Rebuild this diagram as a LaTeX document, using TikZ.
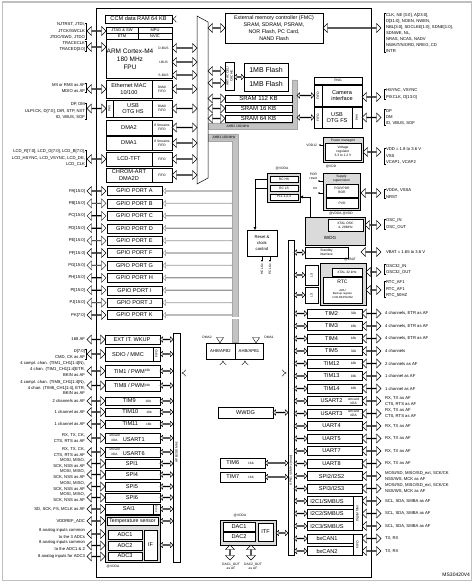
\documentclass[tikz,border=0pt]{standalone}
\usepackage{fontspec}
\setmainfont{Liberation Sans}
\usetikzlibrary{shapes.arrows,arrows.meta}
\definecolor{busg}{RGB}{195,195,195}
\definecolor{domg}{RGB}{218,218,218}
\newcommand\bx[7][]{\node[box,minimum width={((#4)-(#2))*1pt},minimum height={((#5)-(#3))*1pt},#1] (#6) at ({((#2)+(#4))/2},{((#3)+(#5))/2}) {#7};}
\newcommand\harr[5][]{\node[darr,minimum height={((#3)-(#2))*1pt},#1] (#5) at ({((#2)+(#3))/2},{#4}) {};}
\newcommand\varr[5][]{\node[darr,rotate=90,minimum height={((#4)-(#3))*1pt},#1] (#5) at ({#2},{((#3)+(#4))/2}) {};}
\newcommand\lbr[1]{\draw[line width=0.3pt] ([xshift=0.4pt]#1.north east) -- ([xshift=1.4pt]#1.north east) -- ([xshift=1.4pt]#1.south east) -- ([xshift=0.4pt]#1.south east);}
\newcommand\rbr[1]{\draw[line width=0.3pt] ([xshift=-0.4pt]#1.north west) -- ([xshift=-1.4pt]#1.north west) -- ([xshift=-1.4pt]#1.south west) -- ([xshift=-0.4pt]#1.south west);}
\newcommand\sml[1]{{\fontsize{3.2}{3.6}\selectfont #1}}
\newcommand\rrow[6]{%
 \pgfmathsetmacro\yy{313.5+12.5*(#1)}%
 \bx{307}{\yy-4.6}{#6}{\yy+4.6}{#2}{}%
 \node[bft] (#2t) at ({(307+#6)/2-3},\yy) {#3};%
 \node[tiny] (#2s) at (353.5,\yy) {#4};%
 \harr{362}{381}{\yy}{#2x}%
 \harr[sarr]{294}{307}{\yy}{#2b}%
 \node[rlbl] (#2l) at (385,\yy) {#5};%
}
\newcommand\lrow[7]{%
 \bx{105}{#1}{160}{#2}{#3}{}%
 \node[bft] (#3t) at (#5,{((#1)+(#2))/2}) {#4};%
 \harr{87}{105}{#7}{#3x}%
 \harr[sarr]{160}{173}{#7}{#3b}%
 \node[lbl] (#3l) at (85,#7) {#6};%
}
\begin{document}
\begin{tikzpicture}[x=1pt,y=-1pt,
 every node/.style={inner sep=0pt,outer sep=0pt},
 box/.style={draw,fill=white,line width=0.4pt,font=\fontsize{5.6}{6.4}\selectfont,align=center},
 bft/.style={font=\fontsize{5.6}{6.4}\selectfont,align=center},
 lbl/.style={font=\fontsize{4.2}{6.3}\selectfont,align=right,anchor=east},
 rlbl/.style={font=\fontsize{4.2}{6.3}\selectfont,align=left,anchor=west},
 tiny/.style={font=\fontsize{3.3}{4}\selectfont,align=center},
 darr/.style={double arrow,draw,fill=white,line width=0.4pt,minimum width=9pt,double arrow head extend=2.2pt,double arrow head indent=0pt},
 sarr/.style={minimum width=5.5pt,double arrow head extend=1.3pt},
 garr/.style={single arrow,draw=gray!80,fill=white,line width=0.4pt,minimum width=5.5pt,single arrow head extend=1.3pt,rotate=180},
 bus/.style={draw=gray!70,fill=busg,line width=0.4pt},
 dom/.style={draw,fill=domg,line width=0.4pt},
 lnk/.style={line width=0.4pt},
 hol/.style={double,double distance=2pt,line width=0.4pt},
]
\useasboundingbox (0,0) rectangle (474,585);
\draw[gray!50,line width=1.8pt] (2.5,2) rectangle (471.5,580.5);
\draw[line width=0.8pt] (96,8) rectangle (371,577);
\node[font=\fontsize{5}{5}\selectfont,anchor=east] (ref) at (470,575) {MS30420V4};

% ---------- buses ----------
\draw[bus] (208,123) -- (292,123) -- (292,80) -- (297,80) -- (297,129) -- (208,129) -- cycle;
\node[tiny] (ahb2l) at (238,126) {AHB2 180 MHz};
\draw[bus] (208,134) -- (238,134) -- (238,342) -- (232,342) -- (232,141) -- (208,141) -- cycle;
\node[tiny,fill=gray!55,minimum width=24pt,minimum height=5pt] (ahb1l) at (224,137.5) {AHB1 180 MHz};
\draw[fill=white,line width=0.5pt] (197,16) -- (208,22) -- (208,178) -- (197,184) -- cycle;
\coordinate (bm) at (202.5,100);

% DMA peripheral lines
\coordinate (d2s) at (178,133);
\coordinate (d1s) at (183,150);
\draw[hol,double distance=1.2pt] (d2s) -- (178,323) -- (220,323) -- (220,338);
\draw[hol,double distance=1.2pt] (d1s) -- (183,318) -- (256,318) -- (256,338);
\draw[fill=white,line width=0.4pt] (216.5,337.5) -- (223.5,337.5) -- (220,342.8) -- cycle;
\draw[fill=white,line width=0.4pt] (252.5,337.5) -- (259.5,337.5) -- (256,342.8) -- cycle;
\node[tiny] (dma2lab) at (207,337) {DMA2};
\node[tiny] (dma1lab) at (269,337) {DMA1};

% ---------- top left ----------
\bx{105}{15}{172}{23}{ccm}{CCM data RAM 64 KB}
\draw[hol,-{Implies}] (187,44) |- (ccm.east);
\bx{106}{27}{172}{78}{cpu}{}
\bx[font=\fontsize{4}{4}\selectfont]{106}{27}{138}{33}{jtag}{JTAG \& SW}
\bx[font=\fontsize{4}{4}\selectfont]{138}{27}{172}{33}{mpu}{MPU}
\bx[font=\fontsize{4}{4}\selectfont]{106}{33}{138}{39}{etm}{ETM}
\bx[font=\fontsize{4}{4}\selectfont]{138}{33}{172}{39}{nvic}{NVIC}
\node[font=\fontsize{6.5}{8.2}\selectfont,align=center] (arm) at (130,59) {ARM Cortex-M4\\180 MHz\\FPU};
\node[tiny] (dbus) at (163.5,48) {D-BUS};
\node[tiny] (ibus) at (163.5,62) {I-BUS};
\node[tiny] (sbus) at (163.5,75) {S-BUS};

\bx{106}{80}{152}{98}{eth}{Ethernet MAC\\10/100}
\bx[tiny]{152}{80}{172}{98}{ethf}{DMA/\\FIFO}
\bx{106}{100}{152}{117}{usbhs}{}
\node[bft] (usbhst) at (133,108.5) {USB\\OTG HS};
\bx[tiny]{106}{100}{113}{117}{phyhs}{}
\node[tiny,rotate=90] (phyhst) at (109.5,108.5) {PHY};
\bx[tiny]{152}{100}{172}{117}{usbhsf}{DMA/\\FIFO}
\bx{106}{120}{152}{135}{dma2}{DMA2}
\bx[tiny]{152}{120}{172}{135}{dma2f}{8 Streams\\FIFO}
\bx{106}{136}{152}{150}{dma1}{DMA1}
\bx[tiny]{152}{136}{172}{150}{dma1f}{8 Streams\\FIFO}
\bx{106}{152}{152}{166}{lcd}{LCD-TFT}
\bx[tiny]{152}{152}{172}{166}{lcdf}{FIFO}
\bx{106}{168}{152}{182}{chrom}{CHROM-ART\\DMA2D}
\bx[tiny]{152}{168}{172}{182}{chromf}{FIFO}

\foreach \yy/\nm in {48/mdb,62/mib,75/msb,89/meth,108.5/musb,127.5/mdma2,143/mdma1,159/mlcd,175/mchrom}{\harr{172}{197}{\yy}{\nm}}

% left upper labels
\node[lbl] (ljtag) at (85,31) {NJTRST, JTDI,\\JTCK/SWCLK\\JTDO/SWD, JTDO}; \lbr{ljtag}
\harr{87}{106}{31}{ajtag}
\node[lbl] (ltrace) at (85,46.5) {TRACECLK\\TRACED[3:0]}; \lbr{ltrace}
\harr{87}{106}{47}{atrace}
\node[lbl] (leth) at (85,88) {MII or RMII as AF\\MDIO as AF}; \lbr{leth}
\harr{87}{106}{89}{aeth}
\node[lbl] (lusb) at (85,111) {DP, DM\\ULPI:CK, D[7:0], DIR, STP, NXT\\ID, VBUS, SOF}; \lbr{lusb}
\harr{87}{106}{108.5}{ausb}
\node[lbl] (llcd) at (85,158) {LCD\_R[7:0], LCD\_G[7:0], LCD\_B[7:0],\\LCD\_HSYNC, LCD\_VSYNC, LCD\_DE,\\LCD\_CLK}; \lbr{llcd}
\harr{87}{106}{159}{alcd}

% GPIO
\foreach \L/\n [count=\i from 0] in {A/15,B/15,C/15,D/15,E/15,F/15,G/15,H/15,I/15,J/15,K/7}{
 \pgfmathsetmacro\yy{191+12.4*\i}
 \node[garr,minimum height=69pt] (g\L a) at (197.5,\yy) {};
 \bx{107}{\yy-4.5}{162}{\yy+4.5}{gp\L}{GPIO PORT \L}
 \harr{87}{106}{\yy}{ap\L}
 \node[lbl] (lp\L) at (85,\yy) {P\L[\n:0]};
}

% ---------- APB2 side ----------
\draw[line width=0.4pt,fill=white] (173,333) rectangle (180,562);
\node[tiny,rotate=90] (apb2l) at (176.5,452) {APB2 90 MHz};
\coordinate (apb2) at (176.5,373);
\lrow{335}{344}{extit}{EXT IT. WKUP}{132}{168 AF}{339.5}
\lrow{347}{361}{sdio}{SDIO / MMC}{128}{D[7:0]\\CMD, CK as AF}{354}
\bx{153}{347}{160}{361}{sdiof}{}
\node[tiny,rotate=90] (sdioft) at (156.5,354) {FIFO};
\lrow{365}{377}{timone}{TIM1 / PWM\raisebox{1.5pt}{\sml{16b}}}{132}{}{371}
\node[lbl,font=\fontsize{4.2}{5.7}\selectfont] (timonelab) at (85,369) {4 compl. chan. (TIM1\_CH1[1:4]N),\\4 chan. (TIM1\_CH1[1:4]ETR,\\BKIN as AF};
\lrow{380}{391}{timeight}{TIM8 / PWM\raisebox{1.5pt}{\sml{16b}}}{132}{}{385.5}
\node[lbl,font=\fontsize{4.2}{5.7}\selectfont] (timeightlab) at (85,387.5) {4 compl. chan. (TIM8\_CH1[1:4]N),\\4 chan. (TIM8\_CH1[1:4], ETR,\\BKIN as AF};
\lrow{397}{405}{timnine}{TIM9\hspace{10pt}\sml{16b}}{137}{2 channels as AF}{401}
\lrow{408}{416}{timten}{TIM10\hspace{8pt}\sml{16b}}{137}{1 channel as AF}{412}
\lrow{420}{428}{timeleven}{TIM11\hspace{8pt}\sml{16b}}{137}{1 channel as AF}{424}
\lrow{433}{443}{usartone}{\sml{\shortstack{smcard\\irDA}}\hspace{3pt}USART1}{127}{RX, TX, CK,\\CTS, RTS as AF}{438}
\lrow{447}{457}{usartsix}{\sml{\shortstack{smcard\\irDA}}\hspace{3pt}USART6}{127}{RX, TX, CK,\\CTS, RTS as AF}{452}
\lrow{459}{468}{spione}{SPI1}{132}{MOSI, MISO,\\SCK, NSS as AF}{463.5}
\lrow{470}{479}{spifour}{SPI4}{132}{MOSI, MISO,\\SCK, NSS as AF}{474.5}
\lrow{482}{491}{spifive}{SPI5}{132}{MOSI, MISO,\\SCK, NSS as AF}{486.5}
\lrow{493}{502}{spisix}{SPI6}{132}{MOSI, MISO,\\SCK, NSS as AF}{497.5}
\lrow{504}{514}{saione}{SAI1}{129}{SD, SCK, FS, MCLK as AF}{509}
\bx{153}{504}{160}{514}{saif}{}
\node[tiny,rotate=90,font=\fontsize{2.8}{3}\selectfont] (saift) at (156.5,509) {FIFO};
% ADC group
\bx[fill=domg]{105}{515}{160}{562}{adcg}{}
\bx[font=\fontsize{5.2}{6}\selectfont]{107}{517}{158}{525}{temp}{Temperature sensor}
\bx{108}{530}{142}{539}{adcone}{ADC1}
\bx{108}{541}{142}{550}{adctwo}{ADC2}
\bx{108}{552}{142}{560}{adcthree}{ADC3}
\bx{144}{530}{157}{560}{adcif}{IF}
\node[tiny] (adcv) at (113,567) {@VDDA};
\harr[sarr]{160}{173}{521}{adcb1}
\harr[sarr]{160}{173}{545}{adcb2}
\node[lbl] (lvref) at (85,521) {VDDREF\_ADC};
\harr{87}{105}{521}{avref}
\node[lbl] (lain1) at (85,533.5) {8 analog inputs common\\to the 3 ADCs};
\harr{87}{105}{534}{aain1}
\node[lbl] (lain2) at (85,545.5) {8 analog inputs common\\to the ADC1 \& 2};
\harr{87}{105}{545.5}{aain2}
\node[lbl] (lain3) at (85,556.5) {8 analog inputs for ADC3};
\harr{87}{105}{556.5}{aain3}
\lbr{sdiol}

% ---------- bridges ----------
\bx[font=\fontsize{4.2}{5}\selectfont]{206}{343}{235}{359}{brtwo}{AHB/APB2}
\bx[font=\fontsize{4.2}{5}\selectfont]{235}{343}{263}{359}{brone}{AHB/APB1}
\draw[hol,{Implies}-{Implies}] (223,360.5) |- (181.5,373);
\draw[hol,{Implies}-{Implies}] (245,360.5) |- (286.5,373);

% ---------- APB1 side ----------
\draw[line width=0.4pt,fill=white] (288,240) rectangle (294,555);
\node[tiny,rotate=90] (apb1l) at (291,470) {APB1 45 MHz (max)};
\bx{218}{407}{273}{418}{wwdg}{WWDG}
\harr[sarr]{273}{288}{412.5}{awwdg}
\bx{220}{458}{265}{468}{timsix}{}
\node[bft] (timsixt) at (240,463) {TIM6\hspace{9pt}\sml{16b}};
\harr[sarr]{265}{288}{463}{atimsix}
\bx{220}{472}{265}{482}{timseven}{}
\node[bft] (timsevent) at (240,477) {TIM7\hspace{9pt}\sml{16b}};
\harr[sarr]{265}{288}{477}{atimseven}
\bx[fill=domg]{220}{520}{276}{545}{dacg}{}
\node[tiny] (dacv) at (240,516) {@VDDA};
\bx{223}{522}{255}{531}{dacone}{DAC1}
\bx{223}{532}{255}{541}{dactwo}{DAC2}
\bx{258}{523}{273}{541}{itf}{ITF}
\harr[sarr]{276}{288}{533}{adac}
\varr{230}{545}{560}{adacone}
\varr{251}{545}{560}{adactwo}
\node[tiny] (ldacone) at (231,566) {DAC1\_OUT\\as AF};
\node[tiny] (ldactwo) at (253,566) {DAC2\_OUT\\as AF};

% ---------- clocks ----------
\bx[font=\fontsize{4.2}{6}\selectfont]{247}{230}{277}{256}{rcc}{Reset \&\\clock\\control}
\draw[lnk,-{Latex[length=2pt,width=2pt]}] (262,256) -- (262,262);
\draw[lnk,-{Latex[length=2pt,width=2pt]}] (270,256) -- (270,262);
\node[tiny,rotate=90,anchor=east] (hclk) at (262,264) {HCLKx};
\node[tiny,rotate=90,anchor=east] (pclk) at (270,264) {PCLKx};
\bx[fill=domg]{267}{173}{300}{202}{rcg}{}
\node[tiny] (rcv) at (282,169) {@VDDA};
\bx[tiny]{270}{176}{298}{182}{rchs}{RC HS}
\bx[tiny]{270}{185}{298}{191}{rcls}{RC LS}
\bx[tiny]{270}{194}{298}{200}{pll}{PLL 1,2,3}
\draw[lnk] (rcg.west |- rchs) -- (255,179) -- (255,188) -- (rcg.west |- rcls);
\draw[lnk,-{Latex[length=3pt,width=3pt]}] (255,188) -- (rcc.north -| 255,0);
\draw[lnk,-{Latex[length=3pt,width=3pt]}] (310,197) -- (rcg.east |- 0,197);
\draw[lnk,-{Latex[length=3pt,width=3pt]}] (310,197) -- (310,235) -- (316,235);

% ---------- top right ----------
\bx[font=\fontsize{5.3}{7}\selectfont]{225}{13}{323}{43}{fmc}{External memory controller (FMC)\\SRAM, SDRAM, PSRAM,\\NOR Flash, PC Card,\\NAND Flash}
\harr{208}{225}{28}{sfmc}
\harr{323}{381}{28}{afmc}
\node[rlbl,font=\fontsize{4.2}{6}\selectfont] (lfmc) at (386,33) {CLK, NE [3:0], A[23:0],\\D[31:0], NOEN, NWEN,\\NBL[3:0], SDCLKE[1:0], SDNE[1:0],\\SDNWE, NL,\\NRAS, NCAS, NADV\\NWAIT/NIORD, NREG, CD\\INTR}; \rbr{lfmc}
\bx{225}{62}{234}{90}{art}{}
\node[tiny,rotate=90] (artt) at (229.5,76) {ART ACCEL/\\CACHE};
\harr{208}{225}{71}{sarti}
\harr{208}{225}{83}{sartd}
\harr[sarr]{234}{244}{77}{aflash}
\bx[font=\fontsize{7}{7}\selectfont]{244}{63}{288}{77}{flone}{1MB Flash}
\bx[font=\fontsize{7}{7}\selectfont]{244}{77}{288}{91}{fltwo}{1MB Flash}
\bx[font=\fontsize{6}{6}\selectfont]{225}{95}{292}{102}{sramone}{SRAM 112 KB}
\bx[font=\fontsize{6}{6}\selectfont]{225}{105}{292}{112}{sramtwo}{SRAM 16 KB}
\bx[font=\fontsize{6}{6}\selectfont]{225}{115}{292}{122}{sramthree}{SRAM 64 KB}
\harr{208}{225}{98.5}{ssone}
\harr{208}{225}{108.5}{sstwo}
\harr{208}{225}{118.5}{ssthree}

\bx[tiny]{314}{77}{362}{84}{rng}{RNG}
\bx{322}{85}{362}{106}{cam}{Camera\\interface}
\bx{314}{85}{322}{106}{camf}{}
\node[tiny,rotate=90] (camft) at (318,95.5) {FIFO};
\bx{322}{107}{352}{128}{usbfs}{USB\\OTG FS}
\bx{314}{107}{322}{128}{usbfsf}{}
\node[tiny,rotate=90] (usbfsft) at (318,117.5) {FIFO};
\bx{352}{107}{362}{128}{phyfs}{}
\node[tiny,rotate=90] (phyfst) at (357,117.5) {PHY};
\harr[sarr]{297}{314}{95.5}{acamb}
\harr[sarr]{297}{314}{117.5}{ausbfsb}
\harr{362}{381}{97}{acam}
\harr{362}{381}{117.5}{ausbfs}
\node[rlbl] (lcam) at (386,94) {HSYNC, VSYNC\\PIXCLK, D[13:0]}; \rbr{lcam}
\node[rlbl] (lusbfs) at (386,117.5) {DP\\DM\\ID, VBUS, SOF}; \rbr{lusbfs}

% power
\bx[fill=domg]{323}{137}{363}{162}{pwr}{}
\node[tiny] (pwrt) at (343,140.3) {Power managmt};
\bx[tiny]{325}{143}{361}{160}{vreg}{Voltage\\regulator\\3.3 to 1.2 V}
\node[tiny] (pwrv) at (331,167) {@VDD};
\node[tiny,anchor=east] (vdd12) at (317,145) {VDD12};
\fill (320,145) circle (0.8);
\draw[lnk] (320,145) -- (pwr.west |- 0,145);
\harr{363}{381}{152}{apwr}
\node[rlbl] (lpwr) at (386,156) {VDD = 1.8 to 3.6 V\\VSS\\VCAP1, VCAP2}; \rbr{lpwr}

\bx[fill=domg]{323}{173}{360}{210}{sup}{}
\node[tiny] (supt) at (341.5,178.5) {Supply\\supervision};
\bx[tiny]{326}{184}{358}{197}{por}{POR/PDR\\BOR}
\bx[tiny]{326}{198}{358}{208}{pvd}{PVD}
\node[tiny] (supv) at (341,214) {@VDDA @VDD};
\node[tiny,align=right,anchor=east] (porr) at (317,176) {POR\\reset};
\node[tiny,anchor=east] (intl) at (317,188) {Int};
\fill (319,181) circle (0.8); \draw[lnk] (319,181) -- (sup.west |- 0,181);
\fill (319,193) circle (0.8); \draw[lnk] (319,193) -- (sup.west |- 0,193);
\harr{361}{381}{193}{asup}
\node[rlbl] (lsup) at (386,193.5) {VDDA, VSSA\\NRST}; \rbr{lsup}

% IWDG / oscillators / backup
\bx[fill=domg]{305}{217}{365}{245}{iwdgg}{}
\bx[tiny]{328}{219}{363}{231}{xosc}{XTAL OSC\\4- 26MHz}
\node[font=\fontsize{4.5}{5}\selectfont] (iwdg) at (330,238) {IWDG};
\harr{365}{381}{225}{axosc}
\node[rlbl] (losc) at (386,224) {OSC\_IN\\OSC\_OUT}; \rbr{losc}
\bx[tiny]{305}{247}{348}{258}{stby}{Standby\\interface}
\harr{361}{381}{252}{avbat}
\node[rlbl] (lvbat) at (386,252) {VBAT = 1.65 to 3.6 V};
\node[tiny] (vbatd) at (350,260) {@VBAT};
\bx[fill=domg]{320}{263}{366}{305}{bkg}{}
\bx[tiny]{332}{268}{362}{276}{x32}{XTAL 32 kHz}
\bx{323}{277}{362}{303}{rtc}{}
\node[font=\fontsize{5}{5}\selectfont] (rtct) at (342.5,281.5) {RTC};
\node[tiny,font=\fontsize{2.8}{3.3}\selectfont] (rtcs) at (342.5,294) {AWU\\Backup register\\4 KB BKPSRAM};
\bx{305}{265}{318}{285}{lsone}{}
\node[tiny,rotate=90] (lsonet) at (311.5,275) {LS};
\bx{305}{287}{318}{303}{lstwo}{}
\node[tiny,rotate=90] (lstwot) at (311.5,295) {LS};
\harr[sarr]{294}{305}{252.5}{astby}
\harr[sarr]{294}{305}{275}{alsone}
\harr[sarr]{294}{305}{295}{alstwo}
\harr{366}{381}{272}{ax32}
\harr{366}{381}{290}{artc}
\node[rlbl] (lx32) at (386,269.5) {OSC32\_IN\\OSC32\_OUT}; \rbr{lx32}
\node[rlbl] (lrtc) at (386,289) {RTC\_AF1\\RTC\_AF1\\RTC\_50HZ}; \rbr{lrtc}

% ---------- right rows ----------
\rrow{0}{timtwo}{TIM2}{32b}{4 channels, ETR as AF}{362}
\rrow{1}{timthree}{TIM3}{16b}{4 channels, ETR as AF}{362}
\rrow{2}{timfour}{TIM4}{16b}{4 channels, ETR as AF}{362}
\rrow{3}{timfive}{TIM5}{32b}{4 channels}{362}
\rrow{4}{timtwelve}{TIM12}{16b}{2 channels as AF}{362}
\rrow{5}{timthirteen}{TIM13}{16b}{1 channel as AF}{362}
\rrow{6}{timfourteen}{TIM14}{16b}{1 channel as AF}{362}
\rrow{7}{usarttwo}{USART2}{smcard\\irDA}{RX, TX as AF\\CTS, RTS as AF}{362}
\rrow{8}{usartthree}{USART3}{smcard\\irDA}{RX, TX as AF\\CTS, RTS as AF}{362}
\rrow{9}{uartfour}{UART4}{}{RX, TX as AF}{362}
\rrow{10}{uartfive}{UART5}{}{RX, TX as AF}{362}
\rrow{11}{uartseven}{UART7}{}{RX, TX as AF}{362}
\rrow{12}{uarteight}{UART8}{}{RX, TX as AF}{362}
\rrow{13}{spitwo}{SPI2/I2S2}{}{MOSI/SD, MISO/SD\_ext, SCK/CK\\NSS/WS, MCK as AF}{362}
\rrow{14}{spithree}{SPI3/I2S3}{}{MOSI/SD, MISO/SD\_ext, SCK/CK\\NSS/WS, MCK as AF}{362}
\rrow{15}{icone}{I2C1/SMBUS}{}{SCL, SDA, SMBA as AF}{353}
\rrow{16}{ictwo}{I2C2/SMBUS}{}{SCL, SDA, SMBA as AF}{353}
\rrow{17}{icthree}{I2C3/SMBUS}{}{SCL, SDA, SMBA as AF}{353}
\rrow{18}{canone}{bxCAN1}{}{TX, RX}{353}
\rrow{19}{cantwo}{bxCAN2}{}{TX, RX}{353}
\bx{353}{496.4}{362}{530.6}{dfilt}{}
\node[tiny,rotate=90] (dfiltt) at (357.5,513.5) {Digital filter};
\bx{353}{533.9}{362}{555.6}{canf}{}
\node[tiny,rotate=90] (canft) at (357.5,544.7) {FIFO};
\end{tikzpicture}
\end{document}
